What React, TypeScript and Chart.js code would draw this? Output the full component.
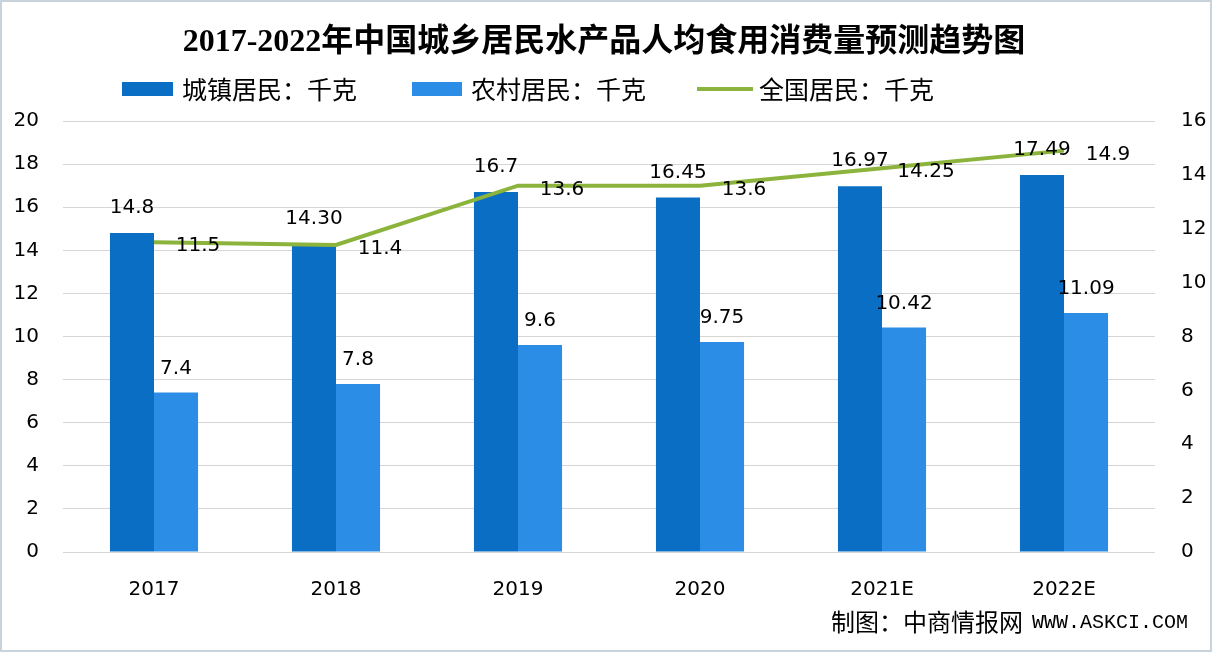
import React, { useEffect, useRef } from "react";
import { Chart, registerables } from "chart.js";

Chart.register(...registerables);

const years = ["2017", "2018", "2019", "2020", "2021E", "2022E"];
const urban = [14.8, 14.3, 16.7, 16.45, 16.97, 17.49];
const urbanText = ["14.8", "14.30", "16.7", "16.45", "16.97", "17.49"];
const rural = [7.4, 7.8, 9.6, 9.75, 10.42, 11.09];
const ruralText = ["7.4", "7.8", "9.6", "9.75", "10.42", "11.09"];
const national = [11.5, 11.4, 13.6, 13.6, 14.25, 14.9];
const nationalText = ["11.5", "11.4", "13.6", "13.6", "14.25", "14.9"];

const titleText = "2017-2022年中国城乡居民水产品人均食用消费量预测趋势图";
const legendLabels = ["城镇居民：千克", "农村居民：千克", "全国居民：千克"];
const sourceLabel = "制图：中商情报网";
const sourceUrl = "WWW.ASKCI.COM";

const DARK = "#0A6EC4";
const LIGHT = "#2B8DE6";
const GREEN = "#8CB43C";
const NUM_FONT = "20px 'DejaVu Sans', sans-serif";
const CJK = "'Noto Sans CJK SC'";

export default function App() {
  const ref = useRef<HTMLCanvasElement | null>(null);
  useEffect(() => {
    if (!ref.current) return;
    const decor = {
      id: "decor",
      beforeDraw(chart: any) {
        const ctx = chart.ctx;
        ctx.save();
        ctx.fillStyle = "#ffffff";
        ctx.fillRect(0, 0, chart.width, chart.height);
        ctx.strokeStyle = "#c9d3dc";
        ctx.lineWidth = 2;
        ctx.strokeRect(1, 1, chart.width - 2, chart.height - 2);
        ctx.restore();
      },
      afterDatasetsDraw(chart: any) {
        const ctx = chart.ctx;
        ctx.save();
        ctx.fillStyle = "#000";
        ctx.font = NUM_FONT;
        ctx.textAlign = "center";
        ctx.textBaseline = "middle";
        const m0 = chart.getDatasetMeta(0);
        const m1 = chart.getDatasetMeta(1);
        const m2 = chart.getDatasetMeta(2);
        m0.data.forEach((el: any, i: number) => {
          ctx.fillText(urbanText[i], el.x, el.y - 25);
        });
        m1.data.forEach((el: any, i: number) => {
          ctx.fillText(ruralText[i], el.x, el.y - 24);
        });
        m2.data.forEach((el: any, i: number) => {
          ctx.fillText(nationalText[i], el.x + 44, el.y + 4);
        });

        // title
        ctx.font = `bold 32px 'Liberation Serif', ${CJK}, serif`;
        ctx.fillText(titleText, 604, 43);

        // legend
        ctx.textAlign = "left";
        ctx.font = `25px ${CJK}, sans-serif`;
        ctx.fillStyle = DARK;
        ctx.fillRect(122, 82, 51, 14);
        ctx.fillStyle = LIGHT;
        ctx.fillRect(412, 82, 50, 14);
        ctx.strokeStyle = GREEN;
        ctx.lineWidth = 4;
        ctx.beginPath();
        ctx.moveTo(697, 89);
        ctx.lineTo(753, 89);
        ctx.stroke();
        ctx.fillStyle = "#000";
        ctx.fillText(legendLabels[0], 182, 89);
        ctx.fillText(legendLabels[1], 471, 89);
        ctx.fillText(legendLabels[2], 759, 89);

        // source
        ctx.font = `24px ${CJK}, sans-serif`;
        ctx.fillText(sourceLabel, 831, 622);
        ctx.font = "20px 'Liberation Mono', monospace";
        ctx.fillText(sourceUrl, 1032, 623);
        ctx.restore();
      },
    };
    const chart = new Chart(ref.current, {
      type: "bar",
      data: {
        labels: years,
        datasets: [
          {
            type: "bar",
            label: legendLabels[0],
            data: urban,
            backgroundColor: DARK,
            yAxisID: "y",
            order: 1,
            categoryPercentage: 0.484,
            barPercentage: 1,
          },
          {
            type: "bar",
            label: legendLabels[1],
            data: rural,
            backgroundColor: LIGHT,
            yAxisID: "y",
            order: 1,
            categoryPercentage: 0.484,
            barPercentage: 1,
          },
          {
            type: "line",
            label: legendLabels[2],
            data: national,
            borderColor: GREEN,
            backgroundColor: GREEN,
            borderWidth: 4,
            pointRadius: 0,
            tension: 0,
            yAxisID: "y1",
            order: 0,
          } as any,
        ],
      },
      options: {
        responsive: false,
        animation: false,
        layout: { padding: { top: 121, left: 0, right: 0, bottom: 0 } },
        plugins: {
          legend: { display: false },
          title: { display: false },
          tooltip: { enabled: false },
        },
        scales: {
          x: {
            grid: { display: false },
            border: { display: false },
            ticks: { color: "#000", font: { family: "'DejaVu Sans'", size: 20 }, padding: 18 },
            afterFit(scale: any) {
              scale.height = 100;
            },
          },
          y: {
            position: "left",
            min: 0,
            max: 20,
            ticks: { stepSize: 2, color: "#000", font: { family: "'DejaVu Sans'", size: 20 }, padding: 24 },
            grid: { color: "#d6d6d6", lineWidth: 1, drawTicks: false },
            border: { display: false },
            afterFit(scale: any) {
              scale.width = 63;
            },
          },
          y1: {
            position: "right",
            min: 0,
            max: 16,
            ticks: { stepSize: 2, color: "#000", font: { family: "'DejaVu Sans'", size: 20 }, padding: 26 },
            grid: { display: false, drawTicks: false },
            border: { display: false },
            afterFit(scale: any) {
              scale.width = 57;
            },
          },
        },
      },
      plugins: [decor],
    });
    return () => chart.destroy();
  }, []);
  return (
    <div style={{ position: "absolute", left: 0, top: 0, width: 1212, height: 652 }}>
      <canvas ref={ref} width={1212} height={652} />
    </div>
  );
}
